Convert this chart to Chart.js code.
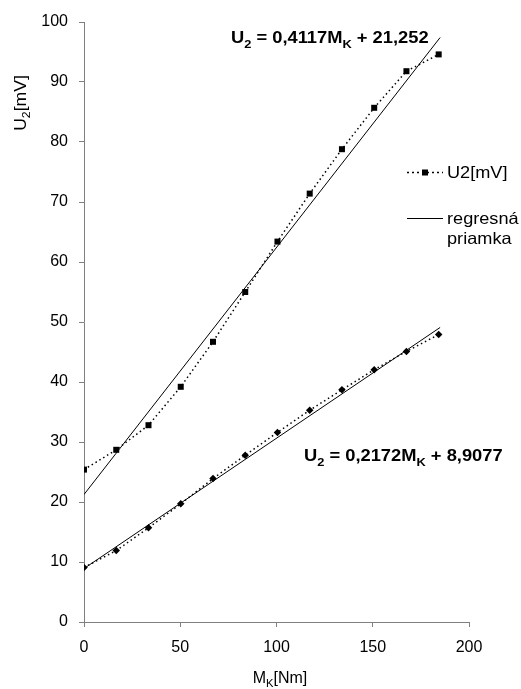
<!DOCTYPE html>
<html><head><meta charset="utf-8">
<script src="https://cdn.jsdelivr.net/npm/chart.js@4/dist/chart.umd.min.js"></script>
<style>html,body{margin:0;padding:0;background:#fff}canvas{display:block}</style>
</head><body>
<canvas id="c" width="521" height="689"></canvas>
<script>
// torque values M_K [Nm]
const mk = [0, 16.75, 33.5, 50.25, 67, 83.75, 100.5, 117.25, 134, 150.75, 167.5, 184.25];
// measured voltage U2 [mV], upper series
const u2Upper = [25.4, 28.7, 32.8, 39.2, 46.7, 55.0, 63.4, 71.4, 78.8, 85.7, 91.8, 94.6];
// measured voltage U2 [mV], lower series
const u2Lower = [9.1, 11.9, 15.7, 19.7, 23.9, 27.8, 31.6, 35.3, 38.7, 42.05, 45.1, 47.9];
// regression coefficients [slope, intercept]
const regUpper = [0.4117, 21.252];
const regLower = [0.2172, 8.9077];
const regRange = [0, 185];
const xTicks = [0, 50, 100, 150, 200];
const yTicks = [0, 10, 20, 30, 40, 50, 60, 70, 80, 90, 100];
const legendLabels = ['U2[mV]', 'regresná', 'priamka'];

const FONT = '"Liberation Sans", Arial, sans-serif';
const pts = (xs, ys) => xs.map((x, i) => ({x, y: ys[i]}));
const line = (c) => regRange.map(x => ({x, y: c[0] * x + c[1]}));

function rich(ctx, parts, x, y, size, bold, align, sx) {
  sx = sx || 1;
  const w = bold ? 'bold ' : '';
  let total = 0;
  parts.forEach(p => { ctx.font = w + (p[1] ? size * 0.7 : size) + 'px ' + FONT; total += ctx.measureText(p[0]).width; });
  ctx.save();
  ctx.translate(x, y);
  ctx.scale(sx, 1);
  let cx = align === 'center' ? -total / 2 : 0;
  ctx.textAlign = 'left'; ctx.textBaseline = 'alphabetic';
  parts.forEach(p => {
    ctx.font = w + (p[1] ? size * 0.7 : size) + 'px ' + FONT;
    ctx.fillText(p[0], cx, (p[1] ? size * 0.28 : 0));
    cx += ctx.measureText(p[0]).width;
  });
  ctx.restore();
}

const textPlugin = {
  id: 'texts',
  afterDraw(chart) {
    const ctx = chart.ctx;
    ctx.save();
    ctx.fillStyle = '#000';
    // equations
    rich(ctx, [['U'], ['2', 1], [' = 0,4117M'], ['K', 1], [' + 21,252']], 231, 43, 16.5, true, 'left', 1.11);
    rich(ctx, [['U'], ['2', 1], [' = 0,2172M'], ['K', 1], [' + 8,9077']], 304, 461, 16.5, true, 'left', 1.11);
    // axis titles
    rich(ctx, [['M'], ['K', 1], ['[Nm]']], 280, 683, 16, false, 'center');
    ctx.save();
    ctx.translate(26, 103);
    ctx.rotate(-Math.PI / 2);
    rich(ctx, [['U'], ['2', 1], ['[mV]']], 0, 0, 16, false, 'center', 1.1);
    ctx.restore();
    // legend
    ctx.strokeStyle = '#000';
    ctx.lineWidth = 1.5;
    ctx.setLineDash([2, 3]);
    ctx.beginPath(); ctx.moveTo(407, 172.5); ctx.lineTo(443, 172.5); ctx.stroke();
    ctx.setLineDash([]);
    ctx.fillRect(422, 169.5, 6, 6);
    ctx.lineWidth = 1;
    ctx.beginPath(); ctx.moveTo(407, 218.5); ctx.lineTo(443, 218.5); ctx.stroke();
    ctx.textBaseline = 'middle';
    ctx.textAlign = 'left';
    legendLabels.forEach((t, i) => {
      ctx.save();
      ctx.translate(447, [173, 219, 239][i]);
      ctx.scale(1.1, 1);
      ctx.font = '16.5px ' + FONT;
      ctx.fillText(t, 0, 0);
      ctx.restore();
    });
    ctx.restore();
  }
};

const measured = (data, style, r) => ({
  data, showLine: true, borderColor: '#000', backgroundColor: '#000', borderWidth: 1.5,
  borderDash: [1.5, 3], pointStyle: style, pointRadius: r, pointHoverRadius: r, pointBorderWidth: 0, order: 1
});
const regression = (data) => ({
  data, showLine: true, borderColor: '#000', borderWidth: 1, pointRadius: 0, order: 2
});

new Chart(document.getElementById('c'), {
  type: 'scatter',
  data: { datasets: [
    measured(pts(mk, u2Upper), 'rect', 4.25),
    measured(pts(mk, u2Lower), 'rectRot', 3.75),
    regression(line(regUpper)),
    regression(line(regLower))
  ]},
  options: {
    responsive: false, animation: false, devicePixelRatio: 1,
    layout: { padding: { top: 22, right: 52, left: 0, bottom: 0 } },
    plugins: { legend: { display: false }, tooltip: { enabled: false } },
    scales: {
      x: {
        type: 'linear', min: 0, max: 200,
        afterBuildTicks: s => { s.ticks = xTicks.map(v => ({value: v})); },
        afterFit: s => { s.height = 67; },
        ticks: { color: '#000', font: { size: 16, family: FONT }, padding: 11, maxRotation: 0 },
        grid: { drawOnChartArea: false, tickLength: 5, color: '#808080' },
        border: { color: '#808080', width: 1 }
      },
      y: {
        type: 'linear', min: 0, max: 100,
        afterBuildTicks: s => { s.ticks = yTicks.map(v => ({value: v})); },
        afterFit: s => { s.width = 84; },
        ticks: { color: '#000', font: { size: 16, family: FONT }, padding: 11 },
        grid: { drawOnChartArea: false, tickLength: 5, color: '#808080' },
        border: { color: '#808080', width: 1 }
      }
    }
  },
  plugins: [textPlugin]
});
</script>
</body></html>
